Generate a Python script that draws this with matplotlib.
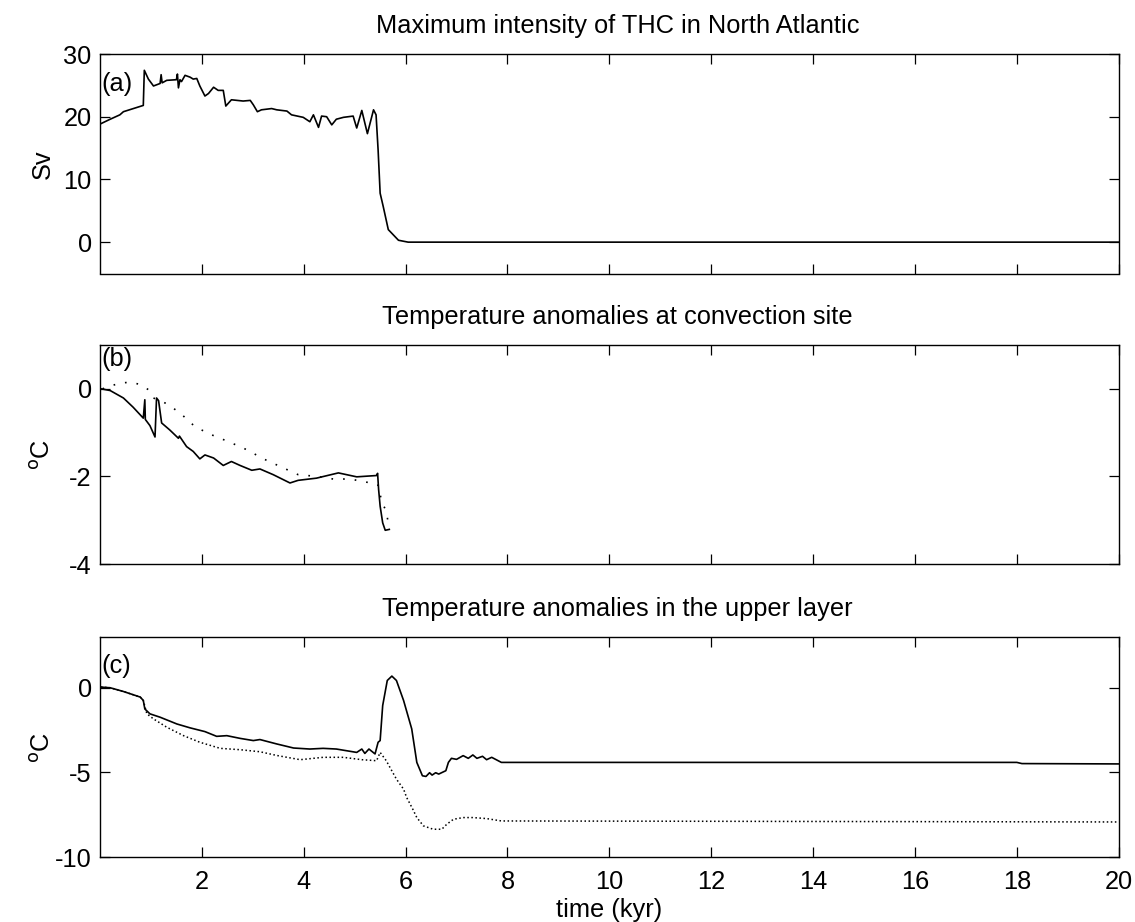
import matplotlib
matplotlib.use("Agg")
import matplotlib.pyplot as plt

plt.rcParams['font.family'] = ['Liberation Sans', 'DejaVu Sans']
plt.rcParams['axes.unicode_minus'] = False

# ---------------- data ----------------
# (a) maximum THC intensity (Sv)
t_thc = [0.02, 0.2, 0.39, 0.46, 0.85, 0.87, 0.95, 1.05, 1.18, 1.20, 1.22, 1.31, 1.50, 1.52, 1.54,
         1.57, 1.60, 1.67, 1.77, 1.83, 1.90, 1.93, 1.96, 2.06, 2.13, 2.23, 2.32, 2.42, 2.47, 2.58,
         2.81, 2.95, 3.01, 3.09, 3.17, 3.37, 3.47, 3.67, 3.76, 3.99, 4.12, 4.19, 4.29, 4.35, 4.45,
         4.55, 4.64, 4.78, 4.97, 5.04, 5.14, 5.25, 5.37, 5.42, 5.46, 5.50, 5.56, 5.66, 5.86, 6.05,
         20.0]
thc = [18.9, 19.6, 20.3, 20.8, 21.8, 27.4, 26.0, 24.9, 25.3, 26.7, 25.4, 25.8, 25.9, 26.8, 24.6,
       25.9, 25.6, 26.6, 26.3, 26.0, 26.1, 25.5, 24.9, 23.3, 23.7, 24.7, 24.2, 24.2, 21.7, 22.7,
       22.5, 22.6, 21.9, 20.8, 21.1, 21.3, 21.1, 20.9, 20.3, 19.9, 19.2, 20.3, 18.3, 20.1, 20.0,
       18.7, 19.6, 19.9, 20.1, 18.2, 21.0, 17.3, 21.1, 20.3, 14.7, 7.8, 5.7, 2.0, 0.3, 0.0,
       0.0]

# (b) temperature anomalies at convection site (deg C)
t_conv = [0.02, 0.2, 0.46, 0.65, 0.85, 0.88, 0.89, 0.98, 1.08, 1.11, 1.15, 1.21, 1.37, 1.54,
          1.56, 1.70, 1.83, 1.96, 2.06, 2.23, 2.42, 2.58, 2.75, 2.98, 3.14, 3.40, 3.73, 3.89,
          4.25, 4.68, 5.04, 5.43, 5.45, 5.47, 5.50, 5.55, 5.60, 5.68]
conv = [0.0, -0.04, -0.21, -0.42, -0.67, -0.25, -0.70, -0.84, -1.10, -0.21, -0.27, -0.78, -0.94,
        -1.13, -1.08, -1.32, -1.43, -1.60, -1.51, -1.58, -1.75, -1.66, -1.75, -1.86, -1.83, -1.96,
        -2.15, -2.09, -2.04, -1.92, -2.01, -1.98, -1.93, -2.30, -2.68, -3.06, -3.23, -3.21]
t_conv_ref = [0.05, 0.2, 0.39, 0.59, 0.79, 0.95, 1.05, 1.31, 1.57, 1.87, 2.19, 2.55, 2.88, 3.21,
              3.53, 3.89, 4.25, 4.58, 4.91, 5.27, 5.37, 5.46, 5.53, 5.62, 5.68]
conv_ref = [0.0, 0.06, 0.13, 0.15, 0.10, -0.02, -0.21, -0.34, -0.55, -0.87, -1.05, -1.22, -1.39,
            -1.60, -1.77, -1.96, -2.00, -2.06, -2.06, -2.14, -2.15, -2.20, -2.57, -2.80, -3.20]

# (c) temperature anomalies in the upper layer (deg C)
t_up = [0.02, 0.2, 0.46, 0.79, 0.85, 0.88, 0.98, 1.18, 1.51, 1.77, 2.06, 2.29, 2.49, 2.75, 3.01,
        3.14, 3.47, 3.80, 4.12, 4.38, 4.64, 5.04, 5.14, 5.20, 5.28, 5.40, 5.46, 5.50, 5.55, 5.64,
        5.73, 5.82, 5.96, 6.12, 6.22, 6.33, 6.40, 6.47, 6.52, 6.59, 6.65, 6.79, 6.84, 6.90, 7.00,
        7.13, 7.23, 7.32, 7.40, 7.51, 7.59, 7.69, 7.88, 18.0, 18.1, 20.0]
up = [0.04, 0.0, -0.22, -0.55, -0.75, -1.25, -1.54, -1.74, -2.14, -2.37, -2.59, -2.87, -2.83,
      -2.99, -3.12, -3.06, -3.32, -3.56, -3.62, -3.58, -3.62, -3.82, -3.62, -3.88, -3.62, -3.91,
      -3.22, -3.12, -1.05, 0.43, 0.69, 0.43, -0.75, -2.43, -4.41, -5.20, -5.24, -5.02, -5.16,
      -5.02, -5.10, -4.90, -4.41, -4.17, -4.23, -4.01, -4.17, -3.97, -4.17, -4.05, -4.25, -4.11,
      -4.41, -4.41, -4.48, -4.50]
t_up_ref = [0.02, 0.2, 0.46, 0.79, 0.85, 0.92, 1.05, 1.31, 1.64, 1.96, 2.36, 2.75, 3.14, 3.47,
            3.93, 4.38, 4.78, 5.14, 5.43, 5.50, 5.62, 5.82, 5.96, 6.02, 6.14, 6.22, 6.35, 6.54,
            6.71, 6.81, 6.94, 7.13, 7.32, 7.59, 7.88, 20.0]
up_ref = [0.04, 0.0, -0.22, -0.55, -0.75, -1.54, -1.84, -2.33, -2.83, -3.22, -3.58, -3.66, -3.78,
          -4.00, -4.25, -4.11, -4.11, -4.25, -4.31, -3.82, -4.31, -5.40, -5.99, -6.48, -7.17,
          -7.67, -8.16, -8.36, -8.36, -8.06, -7.77, -7.67, -7.67, -7.73, -7.87, -7.93]

x_ticks = [2, 4, 6, 8, 10, 12, 14, 16, 18, 20]
titles = ["Maximum intensity of THC in North Atlantic",
          "Temperature anomalies at convection site",
          "Temperature anomalies in the upper layer"]
panel_labels = ["(a)", "(b)", "(c)"]
y_labels = ["Sv", "$^{\\mathrm{o}}$C", "$^{\\mathrm{o}}$C"]

# ---------------- figure ----------------
W, H = 1135, 922
fig = plt.figure(figsize=(W / 100, H / 100), dpi=100)

left = 100 / W
width = (1118.7 - 100) / W
boxes = [(54, 273.5), (345, 564), (637, 857)]
ylims = [(-5, 30), (-4, 1), (-10, 3)]
yticks = [[0, 10, 20, 30], [-4, -2, 0], [-10, -5, 0]]
label_y = [25.2, 0.68, 1.29]
FS = 18.3

axes = []
for i, (top, bot) in enumerate(boxes):
    ax = fig.add_axes([left, 1 - bot / H, width, (bot - top) / H])
    ax.set_xlim(0, 20)
    ax.set_ylim(*ylims[i])
    ax.set_xticks(x_ticks)
    ax.set_yticks(yticks[i])
    ax.tick_params(direction='in', length=7, width=0.9, top=True, right=True,
                   labelsize=FS, pad=6)
    ax.tick_params(axis='x', pad=9)
    if i < 2:
        ax.tick_params(axis='x', labelbottom=False)
    for s in ax.spines.values():
        s.set_linewidth(1.0)
    ax.set_title(titles[i], fontsize=FS, pad=15, x=0.508)
    ax.set_ylabel(y_labels[i], fontsize=FS)
    ax.yaxis.set_label_coords(-0.044, 0.5)
    ax.text(0.03, label_y[i], panel_labels[i], fontsize=FS, ha='left', va='center')
    axes.append(ax)

axes[0].plot(t_thc, thc, color='black', lw=1.2)
axes[1].plot(t_conv, conv, color='black', lw=1.2)
axes[1].plot(t_conv_ref, conv_ref, color='black', lw=1.2, linestyle=(0, (1, 6)))
axes[2].plot(t_up, up, color='black', lw=1.2)
axes[2].plot(t_up_ref, up_ref, color='black', lw=1.1, linestyle=':')
axes[2].set_xlabel("time (kyr)", fontsize=FS, labelpad=3)

fig.savefig("out.png", dpi=100)
